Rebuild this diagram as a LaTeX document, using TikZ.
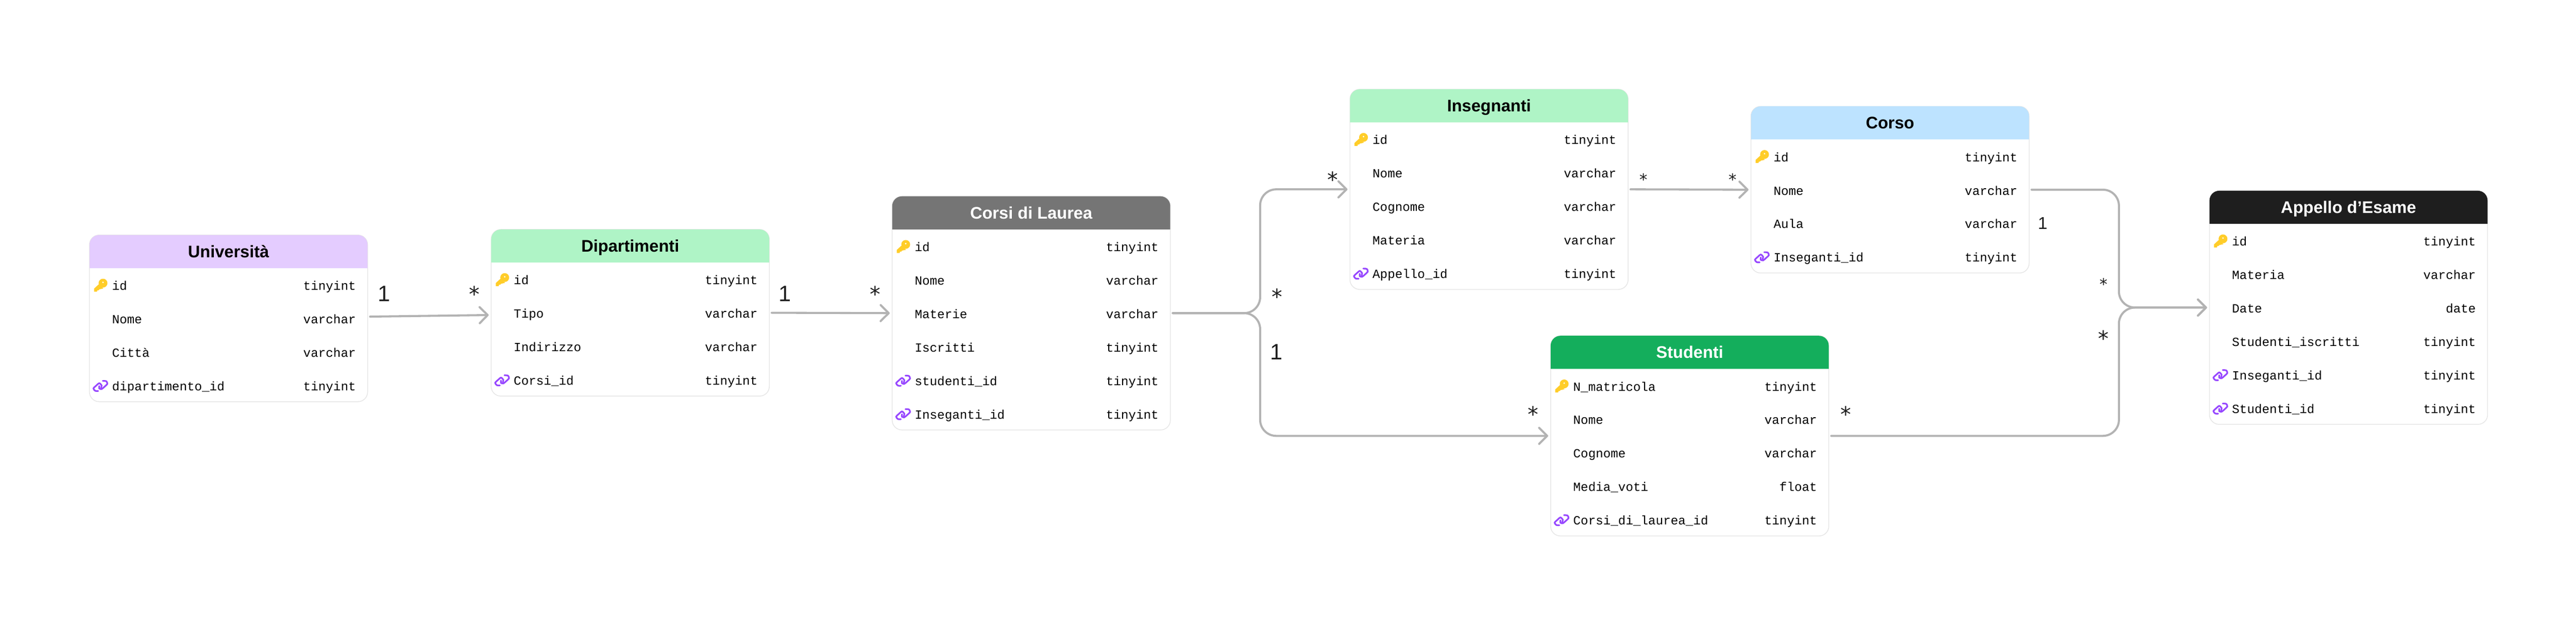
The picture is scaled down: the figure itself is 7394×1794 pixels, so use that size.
\documentclass[tikz,border=0pt]{standalone}
\usepackage{fontspec}
\setmainfont{Liberation Sans}
\setmonofont{Liberation Mono}
\newfontfamily\starfont{DejaVu Sans}
\usetikzlibrary{arrows.meta}

\definecolor{unicol}{HTML}{E4CCFF}
\definecolor{mintcol}{HTML}{AFF4C6}
\definecolor{corsicol}{HTML}{757575}
\definecolor{skycol}{HTML}{BDE3FF}
\definecolor{studcol}{HTML}{14AE5C}
\definecolor{appcol}{HTML}{1E1E1E}
\definecolor{keycol}{HTML}{FFCD29}
\definecolor{linkcol}{HTML}{9747FF}
\definecolor{rimcol}{HTML}{E6E6E6}
\definecolor{wirecol}{HTML}{B3B3B3}

\tikzset{
  tablebox/.style={draw=rimcol,fill=white,line width=.022cm,rounded corners=.28cm,
    minimum width=7.98cm,inner sep=0pt,outer sep=.07cm},
  titletext/.style={inner sep=0pt,anchor=base,font=\fontsize{13.7pt}{15pt}\selectfont\bfseries},
  fieldtext/.style={inner sep=0pt,text=black,font=\fontsize{10.2pt}{12pt}\selectfont\ttfamily},
  wire/.style={draw=wirecol,line width=.06cm,line cap=round,
    -{Straight Barb[length=.23cm,width=.46cm,round]}},
  bigone/.style={inner sep=0pt,text=appcol,font=\fontsize{18.2pt}{20pt}\selectfont},
  smallone/.style={inner sep=0pt,text=appcol,font=\fontsize{14pt}{16pt}\selectfont},
  bigstar/.style={inner sep=0pt,yshift=-.09cm,text=appcol,font=\fontsize{17.4pt}{20pt}\selectfont\starfont},
  smallstar/.style={inner sep=0pt,yshift=-.07cm,text=appcol,font=\fontsize{13pt}{15pt}\selectfont\starfont},
  noicon/.pic={},
  keyicon/.pic={
    \fill[keycol,even odd rule] (7.7,-7) circle[radius=12.7] (7.7,-9.2) circle[radius=2.7];
    \fill[keycol] (-18,8.8) -- (-4.7,-3.5) -- (8.7,8.2) -- (-3,10.8) -- (-4.7,13.2) -- (-8.7,13.8) -- (-9.7,17.5) -- (-18,17.5) -- cycle;
  },
  linkicon/.pic={
    \draw[linkcol,line width=.047cm,line cap=round] plot[smooth] coordinates
      {(-6.3,14.3) (-14.7,13.7) (-19.7,7) (-12,-1) (-3,-8) (3.7,-1.3) (2,5.3)};
    \draw[linkcol,line width=.047cm,line cap=round] plot[smooth] coordinates
      {(7,-14.7) (17,-13.7) (20,-6.3) (12,2) (3.7,8.7) (-3,7) (-3,.3)};
  }
}

% name, left, top, rows, header colour, title colour, title, fields
\newcommand{\dbtable}[8]{%
  \pgfmathsetmacro{\rgt}{#2+798}
  \pgfmathsetmacro{\hdb}{#3+95}
  \pgfmathsetmacro{\boxh}{190+96*(#4-1)}
  \node[tablebox,minimum height=\boxh*.01cm] (#1) at (#2+399,#3+\boxh/2) {};
  \fill[#5] (#2,\hdb) [rounded corners=.28cm] -- (#2,#3) -- (\rgt,#3) [sharp corners] -- (\rgt,\hdb) -- cycle;
  \node[titletext,text=#6] (#1-title) at (#2+399,#3+64.5) {#7};
  \foreach \icon/\field/\ftype [count=\rownum] in {#8}{
    \pgfmathsetmacro{\rowy}{#3+145+96*(\rownum-1)}
    \pic at (#2+31,\rowy) {\icon};
    \node[fieldtext,anchor=base west] (#1-f\rownum) at (#2+64,\rowy+13) {\field};
    \node[fieldtext,anchor=base east] (#1-t\rownum) at (\rgt-33,\rowy+13) {\ftype};
  }
}

\begin{document}
\begin{tikzpicture}[x=.01cm,y=-.01cm]
  \useasboundingbox (0,0) rectangle (7394,1794);

  %draw tables
  \dbtable{uni}{257}{674}{4}{unicol}{black}{Università}{
    keyicon/id/tinyint, noicon/Nome/varchar, noicon/Città/varchar,
    linkicon/dipartimento\_id/tinyint}
  \dbtable{dip}{1410}{658}{4}{mintcol}{black}{Dipartimenti}{
    keyicon/id/tinyint, noicon/Tipo/varchar, noicon/Indirizzo/varchar,
    linkicon/Corsi\_id/tinyint}
  \dbtable{lau}{2561}{563}{6}{corsicol}{white}{Corsi di Laurea}{
    keyicon/id/tinyint, noicon/Nome/varchar, noicon/Materie/varchar,
    noicon/Iscritti/tinyint, linkicon/studenti\_id/tinyint,
    linkicon/Inseganti\_id/tinyint}
  \dbtable{ins}{3875}{256}{5}{mintcol}{black}{Insegnanti}{
    keyicon/id/tinyint, noicon/Nome/varchar, noicon/Cognome/varchar,
    noicon/Materia/varchar, linkicon/Appello\_id/tinyint}
  \dbtable{cor}{5026}{305}{4}{skycol}{black}{Corso}{
    keyicon/id/tinyint, noicon/Nome/varchar, noicon/Aula/varchar,
    linkicon/Inseganti\_id/tinyint}
  \dbtable{stu}{4451}{963}{5}{studcol}{white}{Studenti}{
    keyicon/N\_matricola/tinyint, noicon/Nome/varchar, noicon/Cognome/varchar,
    noicon/Media\_voti/float, linkicon/Corsi\_di\_laurea\_id/tinyint}
  \dbtable{app}{6342}{547}{6}{appcol}{white}{Appello d’Esame}{
    keyicon/id/tinyint, noicon/Materia/varchar, noicon/Date/date,
    noicon/Studenti\_iscritti/tinyint, linkicon/Inseganti\_id/tinyint,
    linkicon/Studenti\_id/tinyint}

  %draw connectors
  \coordinate (splitpt) at (3617,898);
  \coordinate (mergept) at (6082,882);
  \draw[wire] ([yshift=.05cm]uni.east) -- ([yshift=-.065cm]dip.west);
  \draw[wire] (dip.east) -- (lau.west);
  \draw[wire,rounded corners=.46cm] (lau.east) -- (splitpt) -- (splitpt |- ins.west) -- (ins.west);
  \draw[wire,rounded corners=.46cm] (lau.east) -- (splitpt) -- (splitpt |- stu.west) -- (stu.west);
  \draw[wire] (ins.east) -- (cor.west);
  \draw[wire,rounded corners=.46cm] (cor.east) -- (mergept |- cor.east) -- (mergept) -- (app.west);
  \draw[wire,rounded corners=.46cm] (stu.east) -- (mergept |- stu.east) -- (mergept) -- (app.west);

  %draw multiplicities
  \node[bigone] (one1) at (1102,843) {1};
  \node[bigstar] (star1) at (1361,834) {*};
  \node[bigone] (one2) at (2253,843) {1};
  \node[bigstar] (star2) at (2512,834) {*};
  \node[bigstar] (star3) at (3665,842) {*};
  \node[bigone] (one3) at (3663,1010) {1};
  \node[bigstar] (star4) at (3825,506) {*};
  \node[smallstar] (star5) at (4718,508) {*};
  \node[smallstar] (star6) at (4973,508) {*};
  \node[bigstar] (star7) at (4401,1178) {*};
  \node[bigstar] (star8) at (5298,1178) {*};
  \node[smallone] (one4) at (5863,641) {1};
  \node[smallstar] (star9) at (6038,808) {*};
  \node[bigstar] (star10) at (6038,961) {*};
\end{tikzpicture}
\end{document}
